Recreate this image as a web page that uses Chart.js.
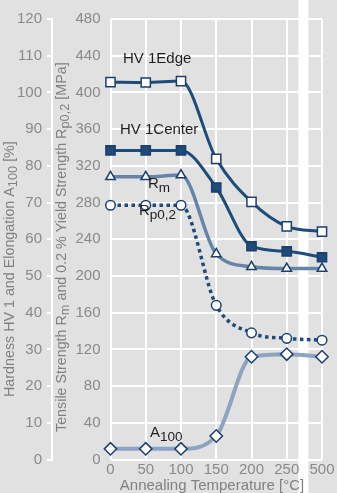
<!DOCTYPE html>
<html>
<head>
<meta charset="utf-8">
<script src="https://cdn.jsdelivr.net/npm/chart.js@4.4.1/dist/chart.umd.min.js"></script>
<style>
  html, body { margin: 0; padding: 0; background: #e1e1e1; }
  #wrap { width: 337px; height: 493px; }
</style>
</head>
<body>
<div id="wrap"><canvas id="chart" width="337" height="493"></canvas></div>
<script>
// Annealing temperatures (°C) – the 250 → 500 step is an axis break
const temperatures = ['0', '50', '100', '150', '200', '250', '500'];

// Hardness HV 1 (left outer axis)
const hvEdge   = [102.8, 102.7, 103.1, 81.9, 70.2, 63.5, 62.1];
const hvCenter = [84.2, 84.2, 84.2, 74.1, 58.1, 56.7, 55.1];

// Tensile strength Rm and 0.2 % yield strength Rp0,2 in MPa (inner axis)
const tensileRm = [308, 308, 310, 224, 210, 208, 208];
const yieldRp02 = [277, 277, 277, 168, 138, 132, 130];

// Elongation A100 in % (left outer axis)
const elongationA100 = [2.9, 2.9, 2.9, 6.4, 28.0, 28.7, 28.0];

// Axis ranges
const strengthTicks = { min: 0, max: 480, step: 40 };
const hardnessTicks = { min: 0, max: 120, step: 10 };

const FONT = '"Liberation Sans", Arial, Helvetica, sans-serif';
const BG = '#e1e1e1';
const TICK_COLOR = '#8a8a8a';
const TITLE_COLOR = '#808080';
const DARK_BLUE = '#1d4b7b';
const MARK_EDGE = '#1d3f6c';

// Text runs: [text, isSubscript]
function richWidth(ctx, parts, size, subSize) {
  let w = 0;
  for (const [t, sub] of parts) {
    ctx.font = (sub ? subSize : size) + 'px ' + FONT;
    w += ctx.measureText(t).width;
  }
  return w;
}
function drawRich(ctx, parts, x, y, size, subSize, subShift) {
  ctx.textBaseline = 'alphabetic';
  ctx.textAlign = 'left';
  for (const [t, sub] of parts) {
    ctx.font = (sub ? subSize : size) + 'px ' + FONT;
    ctx.fillText(t, x, y + (sub ? subShift : 0));
    x += ctx.measureText(t).width;
  }
}

// Series captions placed inside the plot
const captions = [
  { parts: [['HV 1Edge', false]], x: 123, y: 63 },
  { parts: [['HV 1Center', false]], x: 120, y: 134 },
  { parts: [['R', false], ['m', true]], x: 148, y: 188 },
  { parts: [['R', false], ['p0,2', true]], x: 139, y: 215 },
  { parts: [['A', false], ['100', true]], x: 150, y: 437 }
];

const decorations = {
  id: 'decorations',
  beforeDraw(chart) {
    const { ctx } = chart;
    const xs = chart.scales.x;
    ctx.save();
    ctx.fillStyle = BG;
    ctx.fillRect(0, 0, chart.width, chart.height);
    // axis break between 250 and 500
    const mid = (xs.getPixelForValue(5) + xs.getPixelForValue(6)) / 2;
    ctx.fillStyle = '#ffffff';
    ctx.fillRect(mid - 6, 0, 10, chart.height);
    ctx.restore();
  },
  afterDraw(chart) {
    const { ctx } = chart;
    ctx.save();
    ctx.fillStyle = TITLE_COLOR;
    // outer axis title
    ctx.save();
    ctx.translate(14, 397);
    ctx.rotate(-Math.PI / 2);
    drawRich(ctx, [['Hardness HV 1 and Elongation A', false], ['100', true], [' [%]', false]], 0, 0, 14.3, 12.8, 3);
    ctx.restore();
    // inner axis title
    ctx.save();
    ctx.translate(66, 432);
    ctx.rotate(-Math.PI / 2);
    drawRich(ctx, [['Tensile Strength R', false], ['m', true], [' and 0.2 % Yield Strength R', false], ['p0,2', true], [' [MPa]', false]], 0, 0, 14.3, 12.8, 3);
    ctx.restore();
    // x axis title
    const xt = [['Annealing Temperature [°C]', false]];
    const w = richWidth(ctx, xt, 15, 13);
    drawRich(ctx, xt, 212 - w / 2, 490, 15, 13, 3);
    // series captions
    ctx.fillStyle = '#1e1e1e';
    for (const c of captions) drawRich(ctx, c.parts, c.x, c.y, 15, 13.5, 4);
    ctx.restore();
  }
};

const tickFont = { family: FONT, size: 15 };

new Chart(document.getElementById('chart'), {
  type: 'line',
  data: {
    labels: temperatures,
    datasets: [
      {
        label: 'HV 1 Edge', data: hvEdge, yAxisID: 'y2',
        borderColor: DARK_BLUE, borderWidth: 3,
        pointStyle: 'rect', pointRadius: 6.5, pointBackgroundColor: '#ffffff',
        pointBorderColor: MARK_EDGE, pointBorderWidth: 1.5, clip: false
      },
      {
        label: 'HV 1 Center', data: hvCenter, yAxisID: 'y2',
        borderColor: DARK_BLUE, borderWidth: 3,
        pointStyle: 'rect', pointRadius: 6.5, pointBackgroundColor: DARK_BLUE,
        pointBorderColor: MARK_EDGE, pointBorderWidth: 1.5, clip: false
      },
      {
        label: 'Rm', data: tensileRm, yAxisID: 'y',
        borderColor: '#6683a8', borderWidth: 3.5,
        pointStyle: 'triangle', pointRadius: 5.5, pointBackgroundColor: '#ffffff',
        pointBorderColor: MARK_EDGE, pointBorderWidth: 1.5, clip: false
      },
      {
        label: 'Rp0,2', data: yieldRp02, yAxisID: 'y',
        borderColor: DARK_BLUE, borderWidth: 3.5, borderDash: [3.5, 3.5],
        pointStyle: 'circle', pointRadius: 4.8, pointBackgroundColor: '#ffffff',
        pointBorderColor: MARK_EDGE, pointBorderWidth: 1.5, clip: false
      },
      {
        label: 'A100', data: elongationA100, yAxisID: 'y2',
        borderColor: '#8ca3c1', borderWidth: 4,
        pointStyle: 'rectRot', pointRadius: 6.2, pointBackgroundColor: '#ffffff',
        pointBorderColor: MARK_EDGE, pointBorderWidth: 1.5, clip: false
      }
    ]
  },
  options: {
    responsive: false,
    animation: false,
    layout: { padding: { top: 11.5, right: 15, bottom: 0, left: 0 } },
    elements: { line: { cubicInterpolationMode: 'monotone' } },
    plugins: { legend: { display: false }, tooltip: { enabled: false } },
    scales: {
      x: {
        type: 'category', offset: false,
        grid: { color: '#ffffff', lineWidth: 2, drawTicks: false },
        border: { display: false },
        ticks: { color: TICK_COLOR, font: tickFont, padding: 1, maxRotation: 0, autoSkip: false },
        afterFit(s) { s.height = 33.5; }
      },
      y: {
        position: 'left', weight: 0,
        min: strengthTicks.min, max: strengthTicks.max,
        ticks: { stepSize: strengthTicks.step, color: TICK_COLOR, font: tickFont, padding: 10 },
        grid: { color: '#ffffff', lineWidth: 2, drawTicks: false },
        border: { display: false },
        afterFit(s) { s.width = 58.5; }
      },
      y2: {
        position: 'left', weight: 1,
        min: hardnessTicks.min, max: hardnessTicks.max,
        ticks: { stepSize: hardnessTicks.step, color: TICK_COLOR, font: tickFont, padding: 5 },
        grid: { drawOnChartArea: false, color: '#ffffff', lineWidth: 2, tickLength: 5 },
        border: { display: true, color: '#ffffff', width: 2 },
        afterFit(s) { s.width = 52; }
      }
    }
  },
  plugins: [decorations]
});
</script>
</body>
</html>
